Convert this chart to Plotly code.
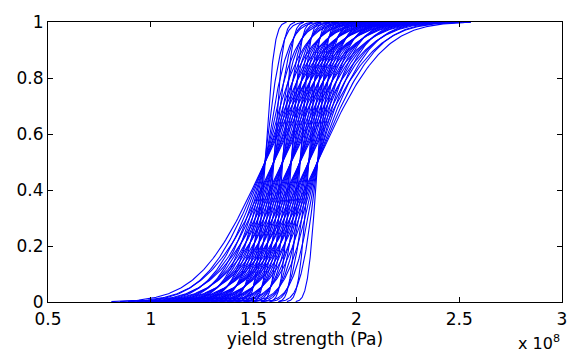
import math
import plotly.graph_objects as go

# Medians (x 1e8 Pa) and standard deviations (x 1e8 Pa) of the CDF family
medians = [1.555, 1.597, 1.64, 1.682, 1.725, 1.767, 1.81]
sigmas = [0.035, 0.062, 0.088, 0.115, 0.142, 0.168, 0.195, 0.222, 0.249]
x_ticks = [0.5, 1, 1.5, 2, 2.5, 3]
x_tick_text = ["0.5", "1", "1.5", "2", "2.5", "3"]
y_ticks = [0, 0.2, 0.4, 0.6, 0.8, 1]
y_tick_text = ["0", "0.2", "0.4", "0.6", "0.8", "1"]

N = 200
fig = go.Figure()
for m in medians:
    for s in sigmas:
        xs = [m - 3 * s + 6 * s * k / (N - 1) for k in range(N)]
        ys = [0.5 * (1 + math.erf((x - m) / (s * math.sqrt(2)))) for x in xs]
        fig.add_trace(go.Scatter(x=xs, y=ys, mode="lines",
                                 line=dict(color="#0000ff", width=1.1),
                                 showlegend=False, hoverinfo="skip"))

font = dict(family="DejaVu Sans, Arial, sans-serif", size=17, color="black")
fig.update_layout(
    width=579, height=354,
    margin=dict(l=48, r=16, t=13, b=52),
    paper_bgcolor="white", plot_bgcolor="white",
    font=font,
    xaxis=dict(range=[0.5, 3], tickvals=x_ticks, ticktext=x_tick_text,
               showgrid=False, zeroline=False, showline=True, linecolor="black",
               linewidth=1, mirror="ticks", ticks="inside", ticklen=5,
               tickcolor="black", ticklabelstandoff=2,
               title=dict(text="yield strength (Pa)", standoff=1, font=font)),
    yaxis=dict(range=[0, 1], tickvals=y_ticks, ticktext=y_tick_text,
               showgrid=False, zeroline=False, showline=True, linecolor="black",
               linewidth=1, mirror="ticks", ticks="inside", ticklen=5,
               tickcolor="black"),
    annotations=[dict(text="x 10<sup>8</sup>", xref="paper", yref="paper",
                      x=1.0, y=-0.1, xanchor="right", yanchor="top",
                      showarrow=False, font=dict(family=font["family"], size=16, color="black"))],
)
fig.write_html("out.html")
